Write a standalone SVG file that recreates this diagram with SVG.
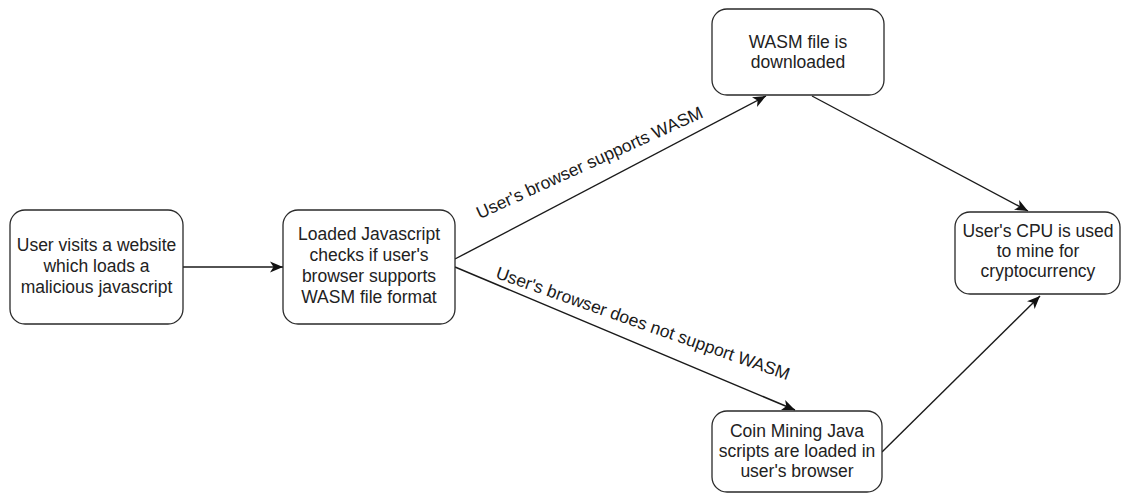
<svg xmlns="http://www.w3.org/2000/svg" width="1122" height="496" viewBox="0 0 1122 496">
<style>
  .box { fill: #ffffff; stroke: #2a2a2a; stroke-width: 1.3; }
  .t { font-family: "Liberation Sans", Arial, sans-serif; font-size: 17.5px; fill: #222222; text-anchor: middle; }
  .lbl { font-family: "Liberation Sans", Arial, sans-serif; font-size: 17.5px; fill: #1a1a1a; text-anchor: middle; }
  .edge { stroke: #1a1a1a; stroke-width: 1.4; fill: none; marker-end: url(#arr); }
</style>
<defs>
  <marker id="arr" markerUnits="userSpaceOnUse" markerWidth="14" markerHeight="12" viewBox="0 0 14 12" refX="13" refY="6" orient="auto">
    <path d="M0,0.5 L13,6 L0,11.5 L3.5,6 Z" fill="#111111"/>
  </marker>
</defs>
<rect width="1122" height="496" fill="#ffffff"/>
<g id="connectors">
  <line class="edge" x1="183" y1="267" x2="283" y2="267"/>
  <line class="edge" x1="455" y1="259" x2="766" y2="96"/>
  <line class="edge" x1="455" y1="267" x2="795" y2="410"/>
  <line class="edge" x1="812" y1="96" x2="1028" y2="211"/>
  <line class="edge" x1="882" y1="452" x2="1040" y2="296"/>
  <text class="lbl" transform="translate(592,168) rotate(-24.5)">User's browser supports WASM</text>
  <text class="lbl" transform="translate(641,329) rotate(19.3)">User's browser does not support WASM</text>
</g>
<g id="node-visit">
  <rect class="box" x="10" y="210" width="173" height="114" rx="15" ry="15"/>
  <text class="t" x="96.5" y="251">User visits a website</text>
  <text class="t" x="96.5" y="272">which loads a</text>
  <text class="t" x="96.5" y="293">malicious javascript</text>
</g>
<g id="node-check">
  <rect class="box" x="283" y="210" width="172" height="114" rx="15" ry="15"/>
  <text class="t" x="369" y="240">Loaded Javascript</text>
  <text class="t" x="369" y="261">checks if user's</text>
  <text class="t" x="369" y="282">browser supports</text>
  <text class="t" x="369" y="303">WASM file format</text>
</g>
<g id="node-wasm">
  <rect class="box" x="712" y="9" width="172" height="86" rx="15" ry="15"/>
  <text class="t" x="798" y="48">WASM file is</text>
  <text class="t" x="798" y="68">downloaded</text>
</g>
<g id="node-cpu">
  <rect class="box" x="955" y="212" width="165" height="82" rx="15" ry="15"/>
  <text class="t" x="1038" y="237">User's CPU is used</text>
  <text class="t" x="1038" y="257">to mine for</text>
  <text class="t" x="1038" y="277">cryptocurrency</text>
</g>
<g id="node-coin">
  <rect class="box" x="712" y="411" width="170" height="81" rx="15" ry="15"/>
  <text class="t" x="797" y="437">Coin Mining Java</text>
  <text class="t" x="797" y="457">scripts are loaded in</text>
  <text class="t" x="797" y="477">user's browser</text>
</g>
</svg>
